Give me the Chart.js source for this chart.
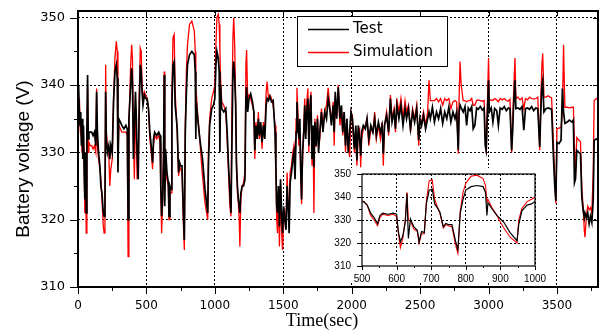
<!DOCTYPE html>
<html>
<head>
<meta charset="utf-8">
<script src="https://cdn.jsdelivr.net/npm/chart.js@4.4.1/dist/chart.umd.min.js"></script>
<style>
  html, body { margin: 0; padding: 0; background: #fff; }
  #wrap { position: relative; width: 600px; height: 331px; }
  #main { position: absolute; left: 0; top: 0; }
  #inset { position: absolute; left: 330px; top: 168px; background: #fff; }
</style>
</head>
<body>
<div id="wrap">
  <canvas id="main" width="600" height="331"></canvas>
  <canvas id="inset" width="216" height="115"></canvas>
</div>
<script>
// --- data (time in s, voltage in V) ---
const timeSec = [
  0,5,10,15,20,25,30,35,40,45,
  50,55,60,65,70,75,80,90,100,110,
  120,130,136,142,150,160,167,175,185,191,
  197,202,207,215,225,232,240,250,260,270,
  280,287,292,298,310,320,335,350,360,366,
  372,385,392,398,405,412,420,425,432,440,
  447,455,462,468,475,485,495,505,
  515,525,535,545,552,560,575,590,600,605,
  611,618,625,630,634,640,650,660,665,672,
  680,686,694,703,710,717,725,735,742,750,
  760,770,777,784,792,800,815,832,850,857,
  861,864,875,890,900,910,928,948,953,962,
  977,990,1000,
  1008,1015,1025,1032,1037,1042,1050,1065,1080,1090,
  1100,1110,1118,1124,1132,1138,1145,1152,1158,1165,
  1172,1178,1183,1190,1200,1210,1220,1227,1232,1240,
  1250,1262,1275,1285,1292,1300,1310,1318,1326,1335,
  1345,1355,1365,1375,1382,1392,1402,1414,1426,1440,
  1446,1452,1458,1465,1472,1480,1488,1495,
  1503,1511,1520,1528,1536,1543,1550,1560,1570,1578,
  1586,1594,1600,1607,1614,1621,1628,1634,1641,1650,
  1657,1664,1672,1680,1687,1694,1702,1710,1718,1724,
  1731,1740,1750,1758,1767,1779,1790,1803,1816,1828,
  1840,1852,1865,1872,1880,1890,1902,1914,1925,1935,
  1945,1955,1965,1975,1985,1995,
  2005,2012,2020,2030,2038,2048,2058,2066,2073,2085,
  2100,2112,2125,2140,2155,2168,2180,2195,2210,2222,
  2231,2240,2255,2270,2283,2295,2310,2320,2330,2345,
  2360,2375,2390,2401,2415,2430,2445,2460,2475,2490,
  2499,2511,2525,2540,2555,2565,2575,2590,2605,2620,
  2635,2650,2665,2680,2695,2710,2725,2740,2755,2767,
  2779,2785,2792,2800,
  2815,2828,2840,2852,2865,2877,2888,2900,2913,2925,
  2940,2955,2968,2976,2983,2992,3000,3006,3020,3032,
  3045,3060,3072,3085,3100,3115,3130,3145,3157,3169,
  3176,3181,3193,3200,3215,3230,3245,3258,3270,3285,
  3300,3315,3330,3345,3360,3374,3382,3390,3396,3405,
  3420,3435,3450,3461,3473,3484,3492,3500,3515,3530,
  3540,3548,3558,3575,3590,3610,3620,3628,3635,3645,
  3660,3672,3682,3692,3700,3705,3715,3725,3735,3745,
  3755,3765,3772,3790,3800
];

const testVolt = [
  340,339.5,336,334,336,331,335,329,334,327,
  323,330,321,333,341.5,332,333,333,333,332.5,
  333,331,339,333,330,328,325,324,321,320.5,
  322,339,332,330,331,329,331,330,337.7,342,
  343,341,327,335,334.5,334,333.5,334,333.5,320,
  335,340,342.5,340.5,329,334,339,336,330,326,
  336,343,342,339,337,338.5,338,338,
  336.5,333,331,328.5,332,333,332.5,333,332.5,325,
  320.5,323,329,341.5,322,330.5,327,325.5,320.5,325,
  324.5,337,343,343.5,337,335.5,333.5,327,328.5,328,
  328,321,317,333,339,343,344.5,345,344.5,342,
  332,337.5,335,332,330.5,329,324.5,321,328,334,
  336.5,337,338,
  343,345,344,342,330,340,336.5,336,336.5,333,
  328,324,321,330,342,343.5,341,337,328,325,
  323,322,321,324,325,325,326,338,339.7,336,
  338,338.7,337.5,336,330.3,334,332,335,332.5,334.5,
  331.5,334,332,337,338,337.7,338.3,337.5,337.7,333,
  327.8,322,321,325,319,326,321,318,
  322,320,318.5,325,322,318,325.5,327,329,330,
  326,333,337.5,334,332,335,327,323,330,333,
  337,332,336,338,331,336,338.5,329,334,327.8,
  334.5,331,335,330,333,336,333,336,335,338,
  336.5,334,337,333,339,335,339.7,335,337,333,
  336,331,335,330,333,336,
  335,333,330.5,334,328.8,334,332,329.5,333,334,
  333.5,335,332,334,333,335,332.5,334.5,333,334,
  329.8,334,335.5,333,338,334.5,336,333.5,337,335,
  337,334,336.5,335,336.5,333.5,336,334.5,336.5,331.8,
  335,334,335.5,333.5,335,336,335,336.7,334.5,336,
  335,336.5,334.3,336,335,336.7,334.5,336,335,336,
  330.3,336,337,336.6,
  336,336.8,334,336.6,336.2,336.8,333.5,334,336.6,336.4,
  336.8,336.3,336.6,331,330.3,336,340.7,336,336.6,334.5,
  336.5,336.2,334,336.6,336.4,336.8,336.2,336.6,336.5,330.3,
  333,336,340.7,336.5,336.6,336.4,336.8,333.3,336.5,336.6,
  336.4,336.8,336.2,336.6,336.5,330.8,336,340,340.7,336,
  336.5,336.6,336.5,336.4,330,325,322.8,331.5,331.3,331.8,
  339.5,336,334.3,334.5,334.8,334.5,334.8,325.5,326,330.3,
  330,329.8,323.3,321.3,320.3,321,320.3,321,319.4,320.5,
  319.6,323,331.8,332,332
];

const simVolt = [
  333,336,338,335,333,332,330,331,333,329,
  321,328,318,331,340,330,331.5,331,331,330.5,
  331,330,339.5,331,329,327.5,326,323,319,318,
  320,343,333,331,330,325,327.5,329,338,344,
  346.5,345,328,334,333.5,333,333,333,332.5,314.5,
  334,343,346,344,332,326,336,334,326,327,
  338,345.5,345,340,338,339,338.5,338,
  336.5,332,330,327.5,331,332.5,332,332.5,331.5,324.5,
  318,322,330,342,330,329.5,326,325,320,324,
  324,338,347,347.5,339,336,333,326.5,328,327.5,
  327,319.5,315.5,334,342,346,349,349.5,348,345,
  338,339,335.5,332,329,326.5,322.5,320,330,335,
  338,339,340,
  346,350,350.5,349,345,341,337.5,337,336,332,
  327,322,320.5,335,347,350,346,338,329,324,
  322.5,320,316,323,325,325.5,327,343,345.2,338,
  338.5,338,337,336,329,334.5,332,336,332,334,
  330.5,334.5,333,339,340.5,338,338.5,338,337,334,
  327,320,318,324,316,325,318,315.5,
  320,321,319,327,322,320,327,328,330,331,
  327,335,339.6,336,331,333,326,322.3,329,334,
  338,333,337.5,339.5,330,337,339,328,333,321,
  335,330.8,335.5,331,332,336.5,334,336,337,339.6,
  337,334.5,337.5,331,338.5,335,340,334,336,332.5,
  336,330,335,331,329.3,336,
  335.5,332,330,333.5,328,333,333.5,327.8,332,333.5,
  334,335,331,333.5,333,336,332,334,332,334.5,
  328,334,336,332.5,338.5,335,336.5,333,338,336,
  338,335,337.7,336,337,333,336.5,335,337,331,
  335,334.5,336,334,336,340.7,337.7,337.7,337.7,338,
  337.5,338,337,338,337.7,338,336.5,337.5,337.7,337.5,
  329.8,338,343.5,340,
  337.7,337.7,337.5,337.7,337.7,338,337,337,337.7,337.8,
  337.7,337.6,337.7,332,329.8,337.5,344,337.7,337.8,337.7,
  338,337.8,337.5,338,337.8,338,337.7,337.6,337.9,330,
  334,337.5,344,338,338.2,337.8,338.1,336.5,338,337.8,
  338.2,338,337.9,338,338.2,330.3,338,343,344.7,338.2,
  338.2,338.4,338.2,338.1,332,326,322.4,333.5,333.6,333.7,
  336,346,336.7,336.7,336.6,336.7,336.7,331,326,332.2,
  331.8,331.6,324.5,321.8,318.4,317.4,320.5,322,321.5,321.8,
  321,327,337.7,338,338
];

const seriesNames = ['Test', 'Simulation'];
const seriesColors = ['#000000', '#ff0000'];

// tick labels
const mainXTicks = [0, 500, 1000, 1500, 2000, 2500, 3000, 3500];
const mainYTicks = [310, 320, 330, 340, 350];
const insetXTicks = [500, 600, 700, 800, 900, 1000];
const insetYTicks = [310, 320, 330, 340, 350];

function toPoints(values) {
  return timeSec.map((t, i) => ({ x: t, y: values[i] }));
}

// major ticks plus the half-way minor ones
function withMinors(majors, max) {
  const step = majors[1] - majors[0];
  const out = [];
  majors.forEach(v => { out.push(v); if (v + step / 2 <= max) out.push(v + step / 2); });
  return out;
}

function makeDatasets(width) {
  return [testVolt, simVolt].map((vals, i) => ({
    label: seriesNames[i],
    data: toPoints(vals),
    borderColor: seriesColors[i],
    borderWidth: width[i],
    pointRadius: 0,
    tension: 0,
    fill: false
  }));
}

function axis(majors, min, max, size, font, pad, horizontal) {
  return {
    type: 'linear', min: min, max: max,
    afterBuildTicks: s => { s.ticks = withMinors(majors, max).map(v => ({ value: v })); },
    afterFit: s => {
      if (horizontal) { s.height = size; s.paddingLeft = 0; s.paddingRight = 0; }
      else { s.width = size; s.paddingTop = 0; s.paddingBottom = 0; }
    },
    ticks: {
      autoSkip: false, maxRotation: 0, minRotation: 0, padding: pad, color: '#000',
      font: font,
      callback: v => majors.includes(v) ? String(v) : ''
    },
    grid: {
      drawTicks: false, lineWidth: 1,
      color: c => (c.tick && majors.includes(c.tick.value) && c.tick.value !== min) ? '#000' : 'rgba(0,0,0,0)'
    },
    border: { display: false, dash: [2, 2] }
  };
}

// frame box + tick marks
const framePlugin = {
  id: 'frame',
  afterDatasetsDraw(chart, args, o) {
    const { ctx, chartArea: a, scales: { x, y } } = chart;
    ctx.save();
    ctx.strokeStyle = '#000';
    ctx.lineWidth = 1;
    ctx.beginPath();
    x.ticks.forEach(t => {
      const px = Math.round(x.getPixelForValue(t.value)) + 0.5;
      const major = o.xMajors.includes(t.value);
      ctx.moveTo(px, a.bottom);
      ctx.lineTo(px, a.bottom + (major ? o.xMajor : o.xMinor));
      if (major && o.inner) { ctx.moveTo(px, a.top); ctx.lineTo(px, a.top + o.inner); }
    });
    y.ticks.forEach(t => {
      const py = Math.round(y.getPixelForValue(t.value)) + 0.5;
      const major = o.yMajors.includes(t.value);
      ctx.moveTo(a.left, py);
      ctx.lineTo(a.left - (major ? o.yMajor : o.yMinor), py);
      if (major && o.inner) { ctx.moveTo(a.right, py); ctx.lineTo(a.right - o.inner, py); }
    });
    ctx.stroke();
    ctx.lineWidth = o.width;
    ctx.strokeRect(a.left, a.top, a.right - a.left, a.bottom - a.top);
    ctx.restore();
  }
};

// legend box and axis titles of the main chart
const labelsPlugin = {
  id: 'labels',
  afterDraw(chart) {
    const ctx = chart.ctx;
    ctx.save();
    // legend
    ctx.fillStyle = '#fff';
    ctx.fillRect(297, 16, 150, 50);
    ctx.strokeStyle = '#000';
    ctx.lineWidth = 1;
    ctx.strokeRect(297.5, 16.5, 150, 50);
    chart.data.datasets.forEach((ds, i) => {
      const yy = 29.5 + i * 23;
      ctx.strokeStyle = ds.borderColor;
      ctx.lineWidth = 1.3;
      ctx.beginPath();
      ctx.moveTo(308, yy);
      ctx.lineTo(349, yy);
      ctx.stroke();
      ctx.fillStyle = '#000';
      ctx.font = '15px "DejaVu Sans"';
      ctx.textAlign = 'left';
      ctx.textBaseline = 'middle';
      ctx.fillText(ds.label, 353, yy);
    });
    // axis titles
    ctx.fillStyle = '#000';
    ctx.textAlign = 'center';
    ctx.textBaseline = 'middle';
    ctx.font = '18px "Liberation Serif"';
    ctx.fillText('Time(sec)', 322, 321);
    ctx.translate(24, 159);
    ctx.rotate(-Math.PI / 2);
    ctx.font = '19px "Liberation Sans"';
    ctx.fillText('Battery voltage (V)', 0, 0);
    ctx.restore();
  }
};

new Chart(document.getElementById('main'), {
  type: 'line',
  data: { datasets: makeDatasets([1.7, 1.3]) },
  options: {
    responsive: false,
    animation: false,
    layout: { padding: { left: 0, top: 11, right: 2, bottom: 0 } },
    scales: {
      x: axis(mainXTicks, 0, 3800, 44, { family: 'DejaVu Sans', size: 12 }, 12, true),
      y: axis(mainYTicks, 310, 351, 78, { family: 'DejaVu Sans', size: 13 }, 13, false)
    },
    plugins: {
      legend: { display: false },
      tooltip: { enabled: false },
      frame: { xMajors: mainXTicks, yMajors: mainYTicks, xMajor: 7, xMinor: 4, yMajor: 8, yMinor: 4, inner: 5, width: 2 }
    }
  },
  plugins: [framePlugin, labelsPlugin]
});

// zoomed view 500-1000 s
new Chart(document.getElementById('inset'), {
  type: 'line',
  data: { datasets: makeDatasets([1.2, 1.1]) },
  options: {
    responsive: false,
    animation: false,
    layout: { padding: { left: 0, top: 6, right: 11, bottom: 0 } },
    scales: {
      x: axis(insetXTicks, 500, 1000, 17, { family: 'Liberation Sans', size: 10 }, 7, true),
      y: axis(insetYTicks, 310, 350, 32, { family: 'Liberation Sans', size: 10 }, 11, false)
    },
    plugins: {
      legend: { display: false },
      tooltip: { enabled: false },
      frame: { xMajors: insetXTicks, yMajors: insetYTicks, xMajor: 4, xMinor: 2, yMajor: 5, yMinor: 3, inner: 0, width: 1.2 }
    }
  },
  plugins: [framePlugin]
});
</script>
</body>
</html>
